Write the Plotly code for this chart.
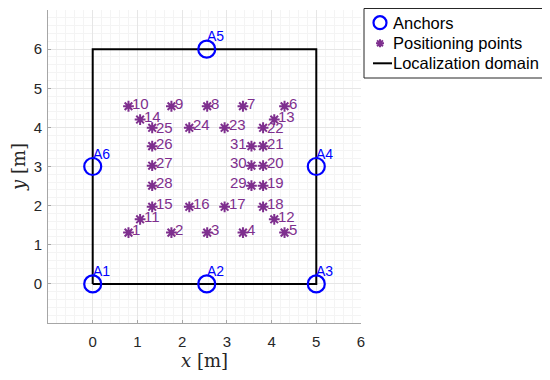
import plotly.graph_objects as go

# Anchors
anchor_names = ["A1", "A2", "A3", "A4", "A5", "A6"]
anchor_x = [0, 2.55, 5, 5, 2.55, 0]
anchor_y = [0, 0, 0, 3, 6, 3]

# Positioning points
point_ids = list(range(1, 32))
point_x = [0.80, 1.76, 2.56, 3.36, 4.29,
           4.29, 3.36, 2.56, 1.76, 0.80,
           1.06, 4.06, 4.06, 1.06,
           1.33, 2.16, 2.95, 3.81,
           3.81, 3.81, 3.81, 3.81,
           2.95, 2.16, 1.33, 1.33, 1.33, 1.33,
           3.55, 3.55, 3.55]
point_y = [1.31, 1.31, 1.31, 1.31, 1.31,
           4.54, 4.54, 4.54, 4.54, 4.54,
           1.65, 1.65, 4.20, 4.20,
           1.97, 1.97, 1.97, 1.97,
           2.51, 3.02, 3.52, 3.99,
           3.99, 3.99, 3.99, 3.52, 3.02, 2.51,
           2.51, 3.02, 3.52]
left_labels = [29, 30, 31]
low_labels = [22, 25]

# Localization domain
domain_x = [0, 5, 5, 0, 0]
domain_y = [0, 0, 6, 6, 0]

legend_labels = ["Anchors", "Positioning points", "Localization domain"]

purple = "#7E2F8E"
blue = "#0000FF"
# page body has an 8px margin, so the figure is sized/offset to compensate
OFF = 8
W, H = 550 - OFF, 380 - OFF
ML, MR, MT, MB = 48 - OFF, 189, 10 - OFF, 57
PW, PH = W - ML - MR, H - MT - MB


def px2x(px):
    return (px - OFF - ML) / PW


def py2y(py):
    return (H - MB - (py - OFF)) / PH


fig = go.Figure()
fig.add_trace(go.Scatter(
    x=domain_x, y=domain_y, mode="lines", name=legend_labels[2],
    line=dict(color="black", width=2), showlegend=False, hoverinfo="skip",
))
fig.add_trace(go.Scatter(
    x=anchor_x, y=anchor_y, mode="markers", name=legend_labels[0],
    marker=dict(symbol="circle-open", size=17, color=blue, line=dict(width=2.2, color=blue)),
    showlegend=False,
))
fig.add_trace(go.Scatter(
    x=point_x, y=point_y, mode="markers", name=legend_labels[1],
    marker=dict(symbol="asterisk-open", size=9, color=purple, line=dict(width=2, color=purple)),
    showlegend=False,
))

lab_font = "Liberation Sans, Arial"
annotations = []
for name, ax, ay in zip(anchor_names, anchor_x, anchor_y):
    annotations.append(dict(x=ax, y=ay, text=name, showarrow=False,
                            xanchor="left", yanchor="bottom", xshift=-2, yshift=3,
                            font=dict(family=lab_font, size=14, color=blue)))
for pid, px, py in zip(point_ids, point_x, point_y):
    right = pid not in left_labels
    annotations.append(dict(x=px, y=py, text=str(pid), showarrow=False,
                            xanchor="left" if right else "right", yanchor="middle",
                            xshift=2 if right else -2, yshift=0 if pid in low_labels else 3,
                            font=dict(family=lab_font, size=15, color=purple)))

# manual legend (box, samples, texts)
row_y = [22.7, 43.3, 63.3]
shapes = [
    dict(type="rect", xref="paper", yref="paper", x0=px2x(364), x1=px2x(547),
         y0=py2y(78), y1=py2y(8.5), line=dict(color="#262626", width=1), fillcolor="white",
         layer="above"),
    dict(type="circle", xref="paper", yref="paper", xsizemode="pixel", ysizemode="pixel",
         xanchor=px2x(380), yanchor=py2y(row_y[0]), x0=-6.5, x1=6.5, y0=-6.5, y1=6.5,
         line=dict(color=blue, width=2.2), layer="above"),
    dict(type="path", xref="paper", yref="paper", xsizemode="pixel", ysizemode="pixel",
         xanchor=px2x(380), yanchor=py2y(row_y[1]),
         path="M-4,0H4M0,-4V4M-2.9,-2.9L2.9,2.9M-2.9,2.9L2.9,-2.9",
         line=dict(color=purple, width=2), layer="above"),
    dict(type="line", xref="paper", yref="paper", xsizemode="pixel", ysizemode="pixel",
         xanchor=px2x(382.5), yanchor=py2y(row_y[2]), x0=-9.5, x1=9.5, y0=0, y1=0,
         line=dict(color="black", width=2), layer="above"),
]
for lbl, ry in zip(legend_labels, row_y):
    annotations.append(dict(xref="paper", yref="paper", x=px2x(391), y=py2y(ry),
                            text=lbl, showarrow=False, xanchor="left", yanchor="middle",
                            font=dict(family=lab_font, size=16.5, color="black")))

fig.update_layout(
    width=W, height=H,
    margin=dict(l=ML, r=MR, t=MT, b=MB),
    paper_bgcolor="white", plot_bgcolor="white",
    annotations=annotations, shapes=shapes,
    showlegend=False,
    font=dict(family=lab_font, color="#262626"),
)
fig.update_xaxes(
    range=[-1, 6], tickvals=[0, 1, 2, 3, 4, 5, 6], showgrid=True, gridcolor="#E6E6E6", gridwidth=1,
    minor=dict(dtick=0.2, showgrid=True, gridcolor="#F4F4F4", gridwidth=1),
    zeroline=False, showline=True, linecolor="#A6A6A6", linewidth=1,
    ticks="inside", ticklen=3, tickcolor="#A6A6A6", ticklabelstandoff=5,
    tickfont=dict(size=15, color="#262626"), automargin=False,
    title=dict(text="<i>x</i> [m]", font=dict(family="DejaVu Serif, Liberation Serif", size=18, color="#262626"), standoff=2),
)
fig.update_yaxes(
    range=[-1, 7], tickvals=[0, 1, 2, 3, 4, 5, 6], showgrid=True, gridcolor="#E6E6E6", gridwidth=1,
    minor=dict(dtick=0.2, showgrid=True, gridcolor="#F4F4F4", gridwidth=1),
    zeroline=False, showline=True, linecolor="#A6A6A6", linewidth=1,
    ticks="inside", ticklen=3, tickcolor="#A6A6A6", ticklabelstandoff=2,
    tickfont=dict(size=15, color="#262626"), automargin=False,
    title=dict(text="<i>y</i> [m]", font=dict(family="DejaVu Serif, Liberation Serif", size=18, color="#262626"), standoff=4),
)

fig.write_html("out.html")
